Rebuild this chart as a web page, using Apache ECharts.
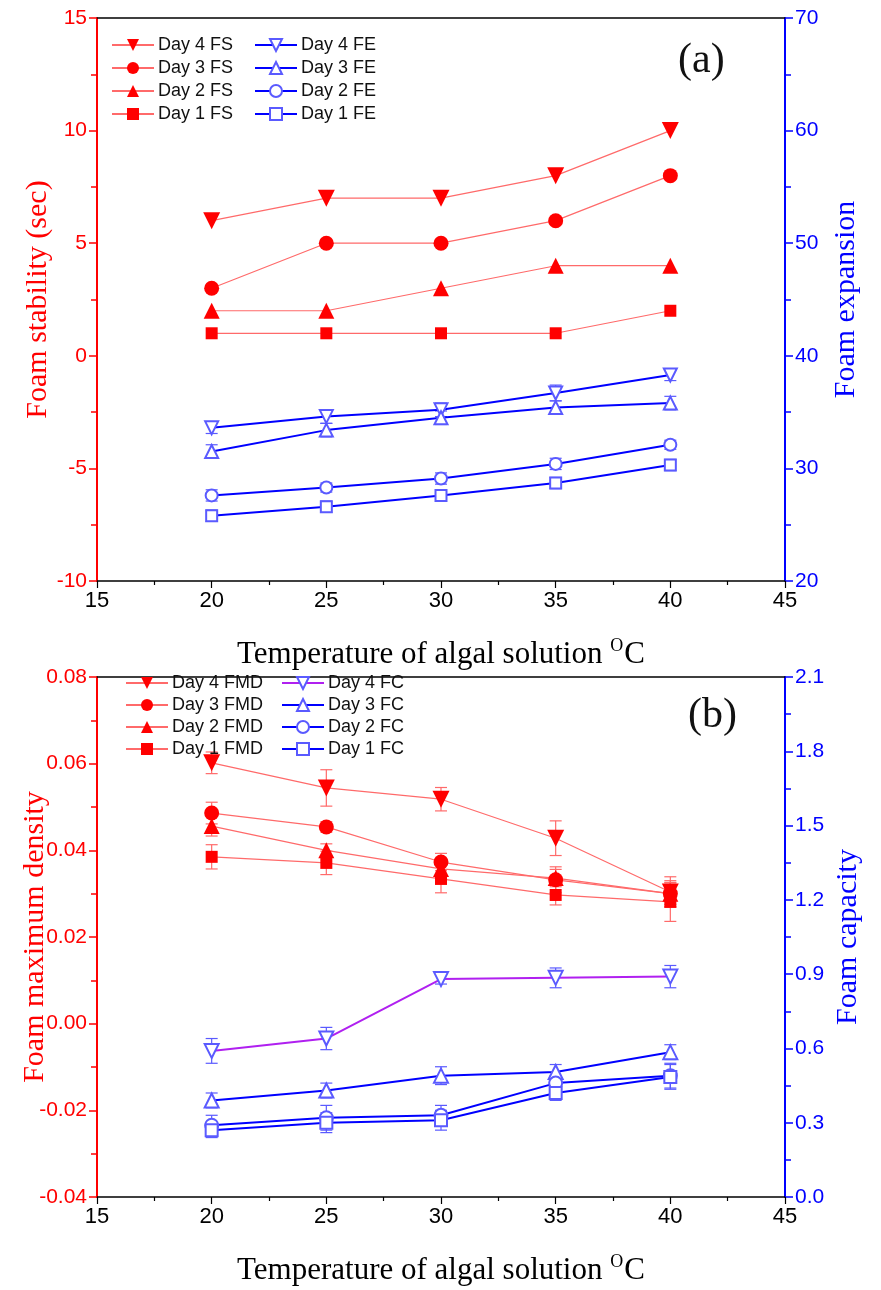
<!DOCTYPE html>
<html><head><meta charset="utf-8">
<script src="https://cdn.jsdelivr.net/npm/echarts@6/dist/echarts.min.js"></script>
<style>html,body{margin:0;padding:0;background:#fff}#c{width:881px;height:1290px}</style>
</head><body><div id="c"></div>
<script>
// ---------- data ----------
const temps = [20, 25, 30, 35, 40];
const xTicks = [15, 20, 25, 30, 35, 40, 45];

// Panel (a)
const fsTicks = [-10, -5, 0, 5, 10, 15];
const feTicks = [20, 30, 40, 50, 60, 70];
const fsDay4 = [6, 7, 7, 8, 10];
const fsDay3 = [3, 5, 5, 6, 8];
const fsDay2 = [2, 2, 3, 4, 4];
const fsDay1 = [1, 1, 1, 1, 2];
const feDay4 = [33.6, 34.6, 35.2, 36.7, 38.3];
const feDay3 = [31.5, 33.4, 34.5, 35.4, 35.8];
const feDay2 = [27.6, 28.3, 29.1, 30.4, 32.1];
const feDay1 = [25.8, 26.6, 27.6, 28.7, 30.3];
const feErrDay4 = [0.5, 0.6, 0.6, 0.7, 0.5];
const feErrDay3 = [0.6, 0.6, 0.6, 0.6, 0.6];
const feErrDay2 = [0.5, 0.4, 0.5, 0.5, 0.4];
const feErrDay1 = [0.5, 0.5, 0.3, 0.5, 0.5];

// Panel (b)
const fmdTicks = [-0.04, -0.02, 0.00, 0.02, 0.04, 0.06, 0.08];
const fcTicks = [0.0, 0.3, 0.6, 0.9, 1.2, 1.5, 1.8, 2.1];
const fmdDay4 = [0.0602, 0.0544, 0.0518, 0.0428, 0.0304];
const fmdDay3 = [0.0486, 0.0454, 0.0373, 0.0332, 0.0300];
const fmdDay2 = [0.0456, 0.0400, 0.0357, 0.0336, 0.0300];
const fmdDay1 = [0.0385, 0.0371, 0.0334, 0.0297, 0.0281];
const fmdErrDay4 = [0.0025, 0.0042, 0.0027, 0.0040, 0.0035];
const fmdErrDay3 = [0.0025, 0.0012, 0.0020, 0.0030, 0.0030];
const fmdErrDay2 = [0.0023, 0.0015, 0.0015, 0.0020, 0.0025];
const fmdErrDay1 = [0.0028, 0.0027, 0.0032, 0.0023, 0.0045];
const fcDay4 = [0.59, 0.64, 0.88, 0.885, 0.89];
const fcDay3 = [0.39, 0.43, 0.49, 0.505, 0.585];
const fcDay2 = [0.29, 0.32, 0.33, 0.46, 0.49];
const fcDay1 = [0.27, 0.30, 0.31, 0.42, 0.485];
const fcErrDay4 = [0.05, 0.045, 0.02, 0.04, 0.045];
const fcErrDay3 = [0.03, 0.03, 0.036, 0.03, 0.03];
const fcErrDay2 = [0.04, 0.05, 0.04, 0.03, 0.05];
const fcErrDay1 = [0.03, 0.04, 0.04, 0.03, 0.05];

// ---------- styles ----------
const RED = '#ff0000', RED_LINE = '#ff6a6a', BLUE = '#0000ff', BLUE_MK = '#5a5aff', PURPLE = '#b020f0';
const SANS = 'Liberation Sans, Arial, sans-serif';
const NARROW = 'Liberation Sans Narrow, Liberation Sans, Arial, sans-serif';
const SERIF = 'Liberation Serif, Times New Roman, serif';

function xAxisBottom(gi) {
  return {
    type: 'value', gridIndex: gi, position: 'bottom',
    min: xTicks[0], max: xTicks[xTicks.length - 1], interval: xTicks[1] - xTicks[0],
    axisLine: { onZero: false, lineStyle: { color: '#000', width: 1.5 } },
    axisTick: { show: true, inside: false, length: 7, lineStyle: { color: '#000', width: 1.2 } },
    minorTick: { show: true, splitNumber: 2, length: 4, lineStyle: { color: '#000', width: 1.2 } },
    splitLine: { show: false },
    axisLabel: { color: '#000', fontSize: 22, fontFamily: NARROW, margin: 9 },
    name: 'Temperature of algal solution {sup|O}C',
    nameLocation: 'middle', nameGap: 56, nameMoveOverlap: false,
    nameTextStyle: {
      color: '#000', fontFamily: SERIF, fontSize: 31, lineHeight: 36,
      rich: { sup: { fontFamily: SERIF, fontSize: 18, verticalAlign: 'top', lineHeight: 14, padding: [0, 1, 16, 0] } }
    }
  };
}
function xAxisTop(gi) {
  return {
    type: 'value', gridIndex: gi, position: 'top',
    min: xTicks[0], max: xTicks[xTicks.length - 1], interval: xTicks[1] - xTicks[0],
    axisLine: { onZero: false, lineStyle: { color: '#000', width: 1.5 } },
    axisTick: { show: false }, axisLabel: { show: false }, splitLine: { show: false }
  };
}
function yAxis(gi, pos, ticks, color, name, dec, gap) {
  return {
    type: 'value', gridIndex: gi, position: pos,
    min: ticks[0], max: ticks[ticks.length - 1], interval: +(ticks[1] - ticks[0]).toFixed(6),
    axisLine: { show: true, onZero: false, lineStyle: { color: color, width: 2 } },
    axisTick: { show: true, inside: false, length: 8, lineStyle: { color: color, width: 1.5 } },
    minorTick: { show: true, splitNumber: 2, length: 6, lineStyle: { color: color, width: 1.5 } },
    splitLine: { show: false },
    axisLabel: {
      color: color, fontSize: 21, fontFamily: SANS, margin: 10,
      formatter: v => (Math.abs(v) < 1e-9 ? 0 : v).toFixed(dec)
    },
    name: name, nameLocation: 'middle', nameGap: gap, nameMoveOverlap: false,
    nameTextStyle: { color: color, fontFamily: SERIF, fontSize: 30 }
  };
}
function lineS(name, xi, yi, vals, symbol, rot, size, lineColor, lineW, symColor) {
  return {
    name: name, type: 'line', xAxisIndex: xi, yAxisIndex: yi,
    data: temps.map((t, i) => [t, vals[i]]),
    symbol: symbol, symbolRotate: rot, symbolSize: size, showSymbol: true,
    lineStyle: { color: lineColor, width: lineW },
    itemStyle: { color: symColor, borderWidth: 1.2 },
    z: 5, animation: false
  };
}
function errS(xi, yi, vals, errs, color) {
  return {
    type: 'custom', xAxisIndex: xi, yAxisIndex: yi, silent: true, z: 3, animation: false,
    data: temps.map((t, i) => [t, vals[i] - errs[i], vals[i] + errs[i]]),
    encode: { x: 0, y: [1, 2] },
    renderItem: (params, api) => {
      const lo = api.coord([api.value(0), api.value(1)]);
      const hi = api.coord([api.value(0), api.value(2)]);
      const w = 6;
      const st = { stroke: color, lineWidth: 1.2 };
      return {
        type: 'group', children: [
          { type: 'line', shape: { x1: lo[0], y1: lo[1], x2: hi[0], y2: hi[1] }, style: st },
          { type: 'line', shape: { x1: lo[0] - w, y1: lo[1], x2: lo[0] + w, y2: lo[1] }, style: st },
          { type: 'line', shape: { x1: hi[0] - w, y1: hi[1], x2: hi[0] + w, y2: hi[1] }, style: st }
        ]
      };
    }
  };
}
function legend(names, left, top, gap) {
  return {
    data: names, orient: 'vertical', left: left, top: top,
    itemWidth: 42, itemHeight: 15, itemGap: gap, padding: 0,
    selectedMode: false,
    textStyle: { color: '#111', fontFamily: SANS, fontSize: 18, lineHeight: 18, padding: [0, 0, 0, -1] }
  };
}

const chart = echarts.init(document.getElementById('c'), null, { renderer: 'canvas' });
chart.setOption({
  backgroundColor: '#fff',
  animation: false,
  grid: [
    { left: 97, top: 18, width: 688, height: 563, outerBoundsMode: 'none', containLabel: false },
    { left: 97, top: 677, width: 688, height: 520, outerBoundsMode: 'none', containLabel: false }
  ],
  xAxis: [xAxisBottom(0), xAxisTop(0), xAxisBottom(1), xAxisTop(1)],
  yAxis: [
    yAxis(0, 'left', fsTicks, RED, 'Foam stability (sec)', 0, 44),
    yAxis(0, 'right', feTicks, BLUE, 'Foam expansion', 0, 46),
    yAxis(1, 'left', fmdTicks, RED, 'Foam maximum density', 2, 47),
    yAxis(1, 'right', fcTicks, BLUE, 'Foam capacity', 1, 48)
  ],
  legend: [
    legend(['Day 4 FS', 'Day 3 FS', 'Day 2 FS', 'Day 1 FS'], 111, 36, 5),
    legend(['Day 4 FE', 'Day 3 FE', 'Day 2 FE', 'Day 1 FE'], 254, 36, 5),
    legend(['Day 4 FMD', 'Day 3 FMD', 'Day 2 FMD', 'Day 1 FMD'], 125, 674, 4),
    legend(['Day 4 FC', 'Day 3 FC', 'Day 2 FC', 'Day 1 FC'], 281, 674, 4)
  ],
  graphic: [
    { type: 'text', left: 678, top: 40, style: { text: '(a)', font: '42px ' + SERIF, fill: '#111' } },
    { type: 'text', left: 688, top: 695, style: { text: '(b)', font: '42px ' + SERIF, fill: '#111' } }
  ],
  series: [
    errS(0, 1, feDay4, feErrDay4, BLUE_MK),
    errS(0, 1, feDay3, feErrDay3, BLUE_MK),
    errS(0, 1, feDay2, feErrDay2, BLUE_MK),
    errS(0, 1, feDay1, feErrDay1, BLUE_MK),
    lineS('Day 4 FS', 0, 0, fsDay4, 'triangle', 180, 17, RED_LINE, 1.2, RED),
    lineS('Day 3 FS', 0, 0, fsDay3, 'circle', 0, 15, RED_LINE, 1.2, RED),
    lineS('Day 2 FS', 0, 0, fsDay2, 'triangle', 0, 16, RED_LINE, 1.2, RED),
    lineS('Day 1 FS', 0, 0, fsDay1, 'rect', 0, 12, RED_LINE, 1.2, RED),
    lineS('Day 4 FE', 0, 1, feDay4, 'emptyTriangle', 180, 13, BLUE, 2, BLUE_MK),
    lineS('Day 3 FE', 0, 1, feDay3, 'emptyTriangle', 0, 13, BLUE, 2, BLUE_MK),
    lineS('Day 2 FE', 0, 1, feDay2, 'emptyCircle', 0, 12, BLUE, 2, BLUE_MK),
    lineS('Day 1 FE', 0, 1, feDay1, 'emptyRect', 0, 11, BLUE, 2, BLUE_MK),
    errS(2, 2, fmdDay4, fmdErrDay4, RED_LINE),
    errS(2, 2, fmdDay3, fmdErrDay3, RED_LINE),
    errS(2, 2, fmdDay2, fmdErrDay2, RED_LINE),
    errS(2, 2, fmdDay1, fmdErrDay1, RED_LINE),
    errS(2, 3, fcDay4, fcErrDay4, BLUE_MK),
    errS(2, 3, fcDay3, fcErrDay3, BLUE_MK),
    errS(2, 3, fcDay2, fcErrDay2, BLUE_MK),
    errS(2, 3, fcDay1, fcErrDay1, BLUE_MK),
    lineS('Day 4 FMD', 2, 2, fmdDay4, 'triangle', 180, 17, RED_LINE, 1.2, RED),
    lineS('Day 3 FMD', 2, 2, fmdDay3, 'circle', 0, 15, RED_LINE, 1.2, RED),
    lineS('Day 2 FMD', 2, 2, fmdDay2, 'triangle', 0, 16, RED_LINE, 1.2, RED),
    lineS('Day 1 FMD', 2, 2, fmdDay1, 'rect', 0, 12, RED_LINE, 1.2, RED),
    lineS('Day 4 FC', 2, 3, fcDay4, 'emptyTriangle', 180, 14, PURPLE, 2, BLUE_MK),
    lineS('Day 3 FC', 2, 3, fcDay3, 'emptyTriangle', 0, 14, BLUE, 2, BLUE_MK),
    lineS('Day 2 FC', 2, 3, fcDay2, 'emptyCircle', 0, 13, BLUE, 2, BLUE_MK),
    lineS('Day 1 FC', 2, 3, fcDay1, 'emptyRect', 0, 12, BLUE, 2, BLUE_MK)
  ]
});
</script>
</body></html>
